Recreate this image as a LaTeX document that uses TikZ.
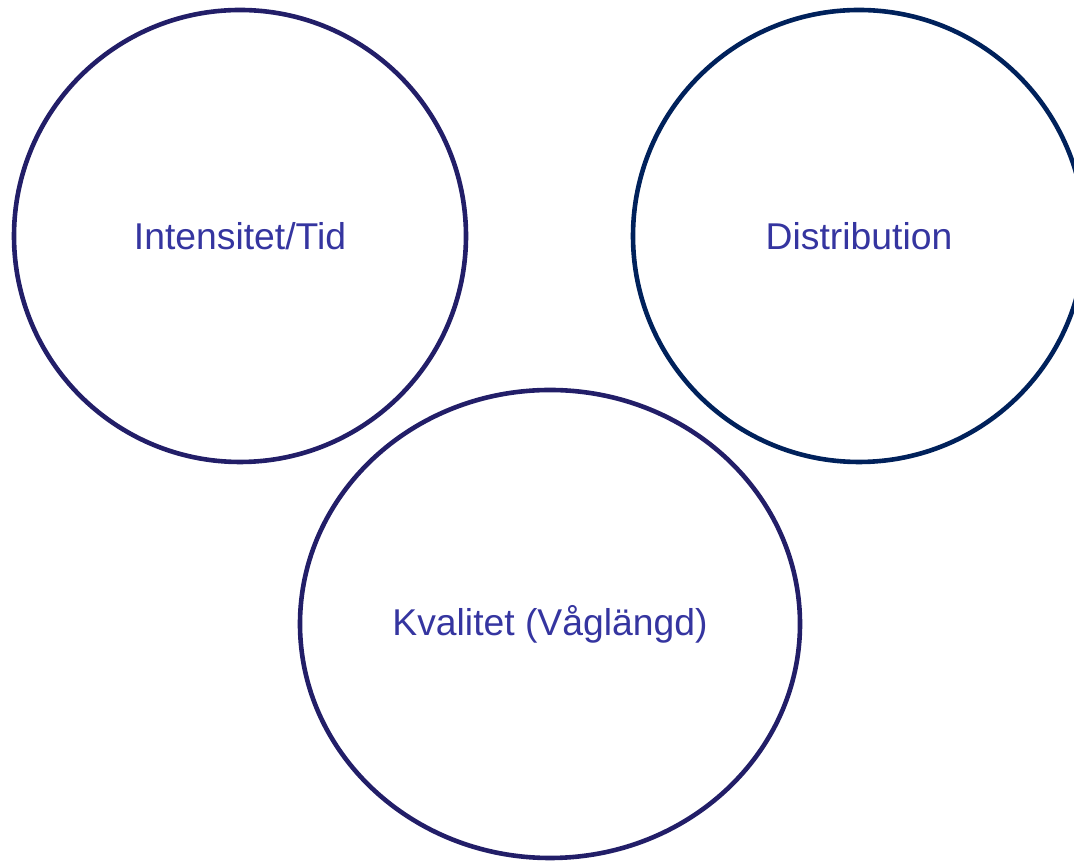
\documentclass[tikz,border=0pt]{standalone}
\usepackage{fontspec}
\setmainfont{Liberation Sans}
\definecolor{ringA}{HTML}{221E68}
\definecolor{ringB}{HTML}{00215B}
\definecolor{txt}{HTML}{3535A0}
\begin{document}
\begin{tikzpicture}[x=1pt,y=1pt,
  ring/.style={draw=ringA,line width=4.6pt},
  lbl/.style={text=txt,font=\fontsize{37.3}{44}\selectfont,inner sep=0pt}]
\useasboundingbox (0,0) rectangle (1074,861);
\draw[ring] (240,625) circle [radius=226];
\draw[ring,draw=ringB] (859,625) circle [radius=226];
\draw[ring] (550,237) ellipse [x radius=250, y radius=234];
\node[lbl] (a) at (240,625) {Intensitet/Tid};
\node[lbl] (b) at (859,625) {Distribution};
\node[lbl] (c) at (550,237) {Kvalitet (Våglängd)};
\end{tikzpicture}
\end{document}
